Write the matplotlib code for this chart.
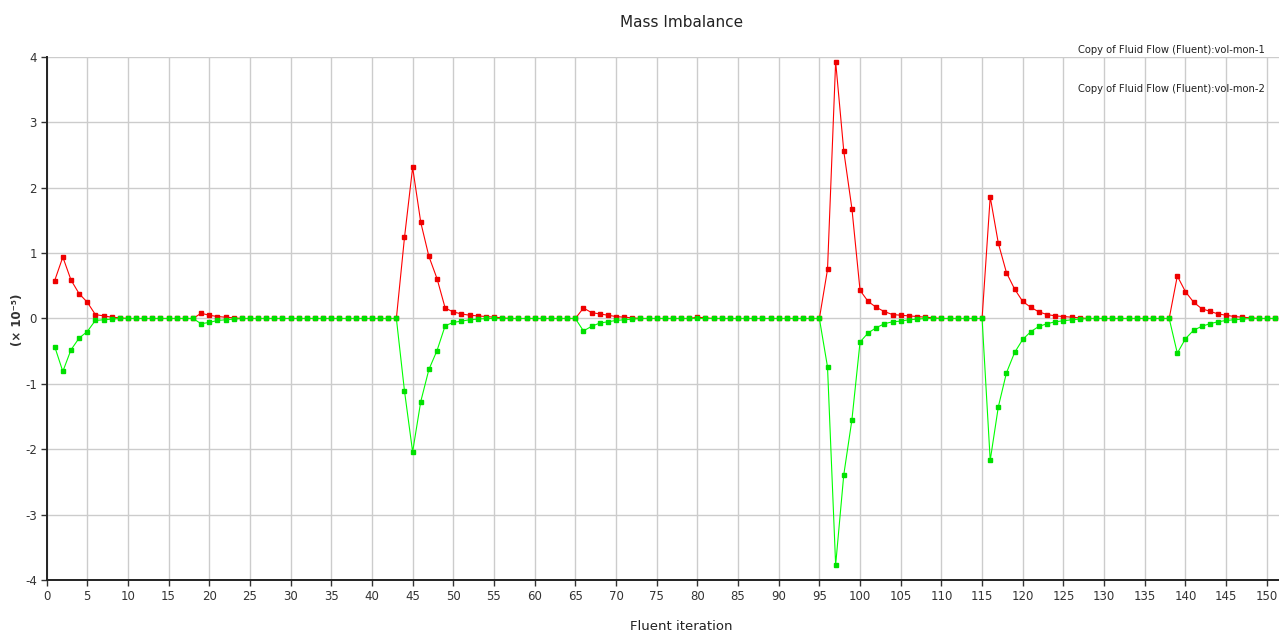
import matplotlib
matplotlib.use("Agg")
import matplotlib.pyplot as plt

plt.rcParams["axes.unicode_minus"] = False

# iterations 1..151
iterations = list(range(1, 152))

vol_mon_1 = [
    0.58, 0.94, 0.59, 0.38, 0.25, 0.06, 0.04, 0.02, 0.01, 0,
    0, 0, 0, 0, 0, 0, 0, 0, 0.08, 0.05,
    0.03, 0.02, 0.01, 0, 0, 0, 0, 0, 0, 0,
    0, 0, 0, 0, 0, 0, 0, 0, 0, 0,
    0, 0, 0, 1.24, 2.31, 1.47, 0.95, 0.61, 0.16, 0.10,
    0.07, 0.05, 0.04, 0.03, 0.02, 0.01, 0, 0, 0, 0,
    0, 0, 0, 0, 0, 0.16, 0.09, 0.07, 0.05, 0.03,
    0.02, 0.01, 0, 0, 0, 0, 0, 0, 0, 0.02,
    0.01, 0, 0, 0, 0, 0, 0, 0, 0, 0,
    0, 0, 0, 0, 0, 0.75, 3.93, 2.56, 1.68, 0.43,
    0.26, 0.17, 0.105, 0.06, 0.05, 0.04, 0.03, 0.02, 0.01, 0,
    0, 0, 0, 0, 0, 1.86, 1.15, 0.70, 0.45, 0.26,
    0.17, 0.10, 0.06, 0.04, 0.03, 0.02, 0.01, 0, 0, 0,
    0, 0, 0, 0, 0, 0, 0, 0, 0.65, 0.41,
    0.25, 0.15, 0.11, 0.07, 0.05, 0.03, 0.02, 0.01, 0, 0,
    0,
]

vol_mon_2 = [
    -0.43, -0.81, -0.48, -0.30, -0.20, -0.03, -0.02, -0.01, 0, 0,
    0, 0, 0, 0, 0, 0, 0, 0, -0.08, -0.06,
    -0.03, -0.02, -0.01, 0, 0, 0, 0, 0, 0, 0,
    0, 0, 0, 0, 0, 0, 0, 0, 0, 0,
    0, 0, 0, -1.11, -2.04, -1.27, -0.78, -0.49, -0.11, -0.06,
    -0.04, -0.02, -0.01, 0, 0, 0, 0, 0, 0, 0,
    0, 0, 0, 0, 0, -0.19, -0.12, -0.07, -0.05, -0.03,
    -0.02, -0.01, 0, 0, 0, 0, 0, 0, 0, 0,
    0, 0, 0, 0, 0, 0, 0, 0, 0, 0,
    0, 0, 0, 0, 0, -0.74, -3.77, -2.39, -1.55, -0.36,
    -0.22, -0.14, -0.08, -0.05, -0.04, -0.02, -0.01, 0, 0, 0,
    0, 0, 0, 0, 0, -2.17, -1.35, -0.83, -0.52, -0.32,
    -0.20, -0.12, -0.08, -0.05, -0.035, -0.02, -0.01, 0, 0, 0,
    0, 0, 0, 0, 0, 0, 0, 0, -0.53, -0.31,
    -0.18, -0.12, -0.08, -0.05, -0.03, -0.02, -0.01, 0, 0, 0,
    0,
]

labels = ["Copy of Fluid Flow (Fluent):vol-mon-1",
          "Copy of Fluid Flow (Fluent):vol-mon-2"]
x_ticks = list(range(0, 151, 5))
y_ticks = [-4, -3, -2, -1, 0, 1, 2, 3, 4]

fig = plt.figure(figsize=(12.79, 6.32), dpi=100)
ax = fig.add_axes([0.0364, 0.0823, 0.9636, 0.8275])

ax.plot(iterations, vol_mon_1, color="#ff0000", lw=0.8, marker="s", ms=3.0,
        mec="#ee0000", mfc="#ee0000", zorder=3)
ax.plot(iterations, vol_mon_2, color="#00ff00", lw=0.8, marker="s", ms=3.0,
        mec="#00e000", mfc="#00e000", zorder=4)

ax.set_xlim(0, 151.5)
ax.set_ylim(-4, 4)
ax.set_xticks(x_ticks)
ax.set_yticks(y_ticks)
ax.grid(True, color="#cccccc", lw=1.0)
ax.set_axisbelow(True)
for s in ["top", "right"]:
    ax.spines[s].set_visible(False)
for s in ["left", "bottom"]:
    ax.spines[s].set_color("#222222")
    ax.spines[s].set_linewidth(1.4)
ax.tick_params(axis="both", labelsize=8.5, colors="#333333", length=4,
               width=1, pad=3)

fig.text(0.533, 0.965, "Mass Imbalance", ha="center", va="center",
         fontsize=11, color="#222222")
fig.text(0.533, 0.008, "Fluent iteration", ha="center", va="center",
         fontsize=9.5, color="#222222")
fig.text(0.014, 0.494, "(\u00d7 10\u207b\u2075)", ha="center", va="center",
         rotation=90, fontsize=8.5, fontweight="bold", color="#333333")

fig.text(0.989, 0.921, labels[0], ha="right", va="center", fontsize=7.2,
         color="#222222")
fig.text(0.989, 0.859, labels[1], ha="right", va="center", fontsize=7.2,
         color="#222222")

fig.savefig("out.png", dpi=100)
